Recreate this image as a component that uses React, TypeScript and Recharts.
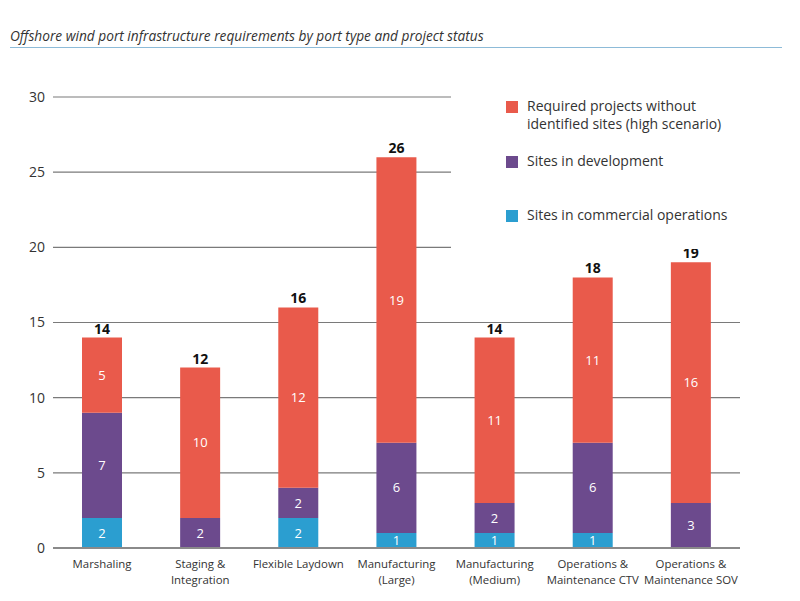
import { BarChart, Bar, XAxis, YAxis, CartesianGrid, LabelList } from 'recharts'

const categories = [
  'Marshaling',
  'Staging &\nIntegration',
  'Flexible Laydown',
  'Manufacturing\n(Large)',
  'Manufacturing\n(Medium)',
  'Operations &\nMaintenance CTV',
  'Operations &\nMaintenance SOV',
]
const commercial = [2, 0, 2, 1, 1, 1, 0]
const development = [7, 2, 2, 6, 2, 6, 3]
const required = [5, 10, 12, 19, 11, 11, 16]
const yTicks = [0, 5, 10, 15, 20, 25, 30]

const FONT = "'Open Sans', 'DejaVu Sans', sans-serif"
const RED = '#E95A4B'
const PURPLE = '#6C4A8D'
const BLUE = '#2B9ED0'

const legendItems = [
  { color: RED, label: 'Required projects without\nidentified sites (high scenario)' },
  { color: PURPLE, label: 'Sites in development' },
  { color: BLUE, label: 'Sites in commercial operations' },
]

const data = categories.map((name, i) => ({
  name,
  commercial: commercial[i],
  development: development[i],
  required: required[i],
  total: commercial[i] + development[i] + required[i],
}))

function CategoryTick({ x, y, payload }: any) {
  const lines = String(payload.value).split('\n')
  return (
    <text x={x} y={y + 12} textAnchor="middle" fontFamily={FONT} fontSize={11.4} fill="#333">
      {lines.map((l, i) => (
        <tspan key={i} x={x} dy={i === 0 ? 0 : 15.5}>{l}</tspan>
      ))}
    </text>
  )
}

// white box over the grid, like the reference
function LegendBox() {
  return (
    <div style={{ position: 'absolute', left: 451, top: 85, width: 340, height: 164, background: '#fff', fontFamily: FONT, fontSize: 14, color: '#333' }}>
      {legendItems.map((it, i) => {
        const top = [12, 67, 121][i]
        return (
          <div key={i} style={{ position: 'absolute', left: 55, top, display: 'flex', alignItems: 'flex-start' }}>
            <span style={{ width: 12, height: 12, background: it.color, marginTop: 4, marginRight: 9, flexShrink: 0 }} />
            <span style={{ whiteSpace: 'pre', lineHeight: '18px' }}>{it.label}</span>
          </div>
        )
      })}
    </div>
  )
}

const hideZero = (v: any) => (v ? v : '')

export default function App() {
  return (
    <div style={{ position: 'absolute', left: 0, top: 0, width: 800, height: 601, background: '#fff' }}>
      <div style={{ position: 'absolute', left: 10, top: 26, fontFamily: FONT, fontStyle: 'italic', fontSize: 13.7, color: '#333' }}>
        Offshore wind port infrastructure requirements by port type and project status
      </div>
      <div style={{ position: 'absolute', left: 10, top: 47, width: 772, height: 1, background: '#8DBBD8' }} />
      <BarChart width={800} height={601} data={data} margin={{ top: 97, right: 60, bottom: 8, left: 0 }}>
        <CartesianGrid vertical={false} stroke="#7a7a7a" strokeWidth={1.2} horizontalValues={[5, 10, 15, 20, 25, 30]} />
        <XAxis dataKey="name" interval={0} tick={<CategoryTick />} tickLine={false} axisLine={{ stroke: '#8a8a8a', strokeWidth: 2 }} height={45} />
        <YAxis domain={[0, 30]} ticks={yTicks} width={53} axisLine={false} tickLine={false}
          tick={{ fontFamily: FONT, fontSize: 14, fill: '#333' }} />
        <Bar dataKey="commercial" stackId="s" fill={BLUE} barSize={40} isAnimationActive={false}>
          <LabelList dataKey="commercial" position="center" formatter={hideZero} fill="#fff" fontFamily={FONT} fontSize={13} />
        </Bar>
        <Bar dataKey="development" stackId="s" fill={PURPLE} barSize={40} isAnimationActive={false}>
          <LabelList dataKey="development" position="center" formatter={hideZero} fill="#fff" fontFamily={FONT} fontSize={13} />
        </Bar>
        <Bar dataKey="required" stackId="s" fill={RED} barSize={40} isAnimationActive={false}>
          <LabelList dataKey="required" position="center" formatter={hideZero} fill="#fff" fontFamily={FONT} fontSize={13} />
          <LabelList dataKey="total" position="top" offset={4} fill="#111" fontFamily={FONT} fontSize={14} fontWeight={700} />
        </Bar>
      </BarChart>
      <LegendBox />
    </div>
  )
}
